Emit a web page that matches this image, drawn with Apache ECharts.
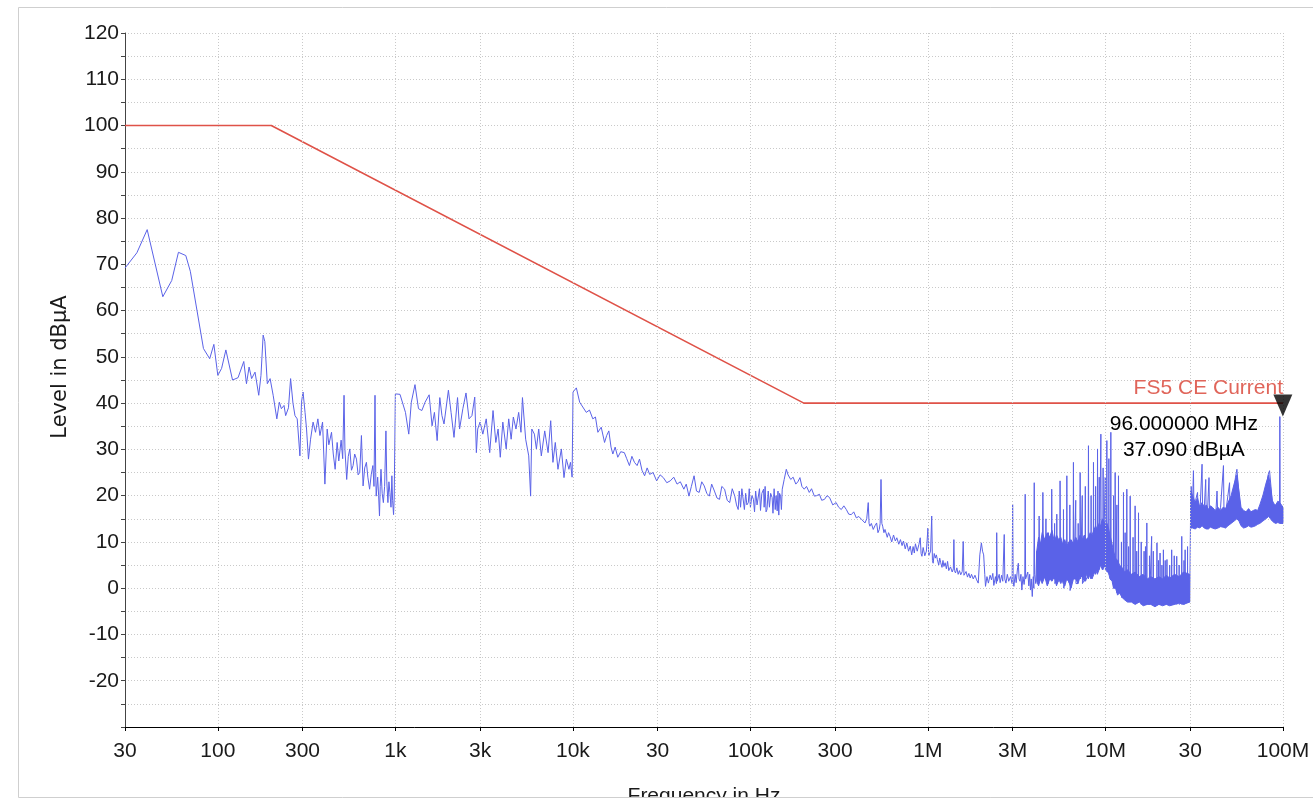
<!DOCTYPE html>
<html>
<head>
<meta charset="utf-8">
<script src="https://cdn.jsdelivr.net/npm/echarts@6/dist/echarts.min.js"></script>
<style>
html,body{margin:0;padding:0;background:#fff;}
#chart{width:1313px;height:799px;}
</style>
</head>
<body>
<div id="chart"></div>
<script>
// ---------- axis ticks ----------
const tickVals = [30,100,300,1e3,3e3,1e4,3e4,1e5,3e5,1e6,3e6,1e7,3e7,1e8];
const tickLabels = ["30","100","300","1k","3k","10k","30","100k","300","1M","3M","10M","30","100M"];

// ---------- limit line (FS5 CE Current) ----------
const limitFreq = [30, 200, 200000, 100000000];
const limitLevel = [100, 100, 40, 40];
const limitName = "FS5 CE Current";

// ---------- measured trace [Hz, dBµA] ----------
const trace30Hz = [[30,69.2],[35,72.5],[40,77.5],[49,63],[55,66.5],[60,72.6],[66,71.9],[70,68.5],[83,51.8],[90,49.6],[95,52.7],[100,46],[105,47.5],[111,51.5],[121,45],[130,45.5],[140,49],[145,44.2],[150,47.8],[155,45.3],[162,46.7],[170,41.7],[175,46],[180,54.7],[184,53.3],[190,44.2],[197,45.3],[205,41.7],[215,36.6],[222,40.2],[228,38.8],[236,39.5],[241,37.3],[250,39],[257,45.3],[265,40],[272,37.3],[280,36.6],[290,28.6],[296,40.2],[302,42.4],[310,38],[316,34.4],[324,27.9],[333,32.2],[344,35.9],[355,33.7],[366,36.6],[376,33],[389,35.9],[401,22.5],[413,34.4],[422,31],[430,30.8],[437,33.7],[447,29],[458,25.7],[470,31.5],[480,27.5],[495,32],[505,28],[514,41.7],[520,30],[532,23.5],[543,28.5],[554,30.1],[566,25.5],[578,26.5],[590,29],[604,27.9],[617,24.5],[630,25],[644,33],[658,22.1],[672,26],[687,27.2],[700,24],[716,21.4],[731,24.5],[747,26.5],[758,22],[768,41.7],[775,25],[780,19.9],[795,24],[805,20],[814,15.6],[822,22],[830,25.7],[843,20.5],[856,18.5],[870,22],[885,34],[895,23],[908,18.5],[920,23],[932,20.7],[945,17.5],[956,24.3],[965,19],[977,15.9],[985,19.5],[1000,42]];

const trace1k = [[1062,41.9],[1140,38],[1190,33.3],[1230,40.2],[1290,44],[1350,38.8],[1410,38.4],[1470,40.2],[1550,41.8],[1610,35.1],[1660,38],[1720,31.9],[1780,41.2],[1830,37.3],[1880,35.5],[1990,42.8],[2060,38],[2140,32.6],[2240,41.2],[2300,34.4],[2400,38.8],[2500,42.2],[2600,36.6],[2700,37.3],[2800,41.3],[2860,29.3],[2910,34.4],[3000,35.9],[3110,33.3],[3250,36.6],[3400,29.3],[3550,38.4],[3680,31.5],[3790,34.4],[3900,28.3],[4030,35.9],[4210,30.1],[4350,36.6],[4490,32.2],[4620,37],[4780,34.4],[4950,38],[5100,33.7],[5200,41.2],[5420,32.2],[5640,28.6],[5780,19.9],[5870,34.4],[6070,33.3],[6230,30.1],[6420,34.4],[6640,28.6],[6940,34],[7250,29.3],[7500,36.2],[7720,27.2],[7960,31.5],[8240,25.7],[8610,30.1],[8910,23.9],[9190,27.9],[9500,25.7],[9690,27.2],[9900,24],[10020,42.4],[10460,43.3],[10920,40.2]];

const trace10k = [[11900,38],[12400,38.5],[12950,36.6],[13400,37],[13830,33.7],[14440,34.8],[15080,31.5],[15500,33],[15940,34],[16400,30.5],[16790,29],[17300,30.5],[17900,28.3],[18600,29.5],[19490,29.3],[20100,28],[20820,26.5],[21500,28.5],[22230,27.2],[23000,26.5],[23730,27.9],[24500,25.5],[25350,24.3],[26200,26],[27070,24.6],[28300,25],[29630,23.2],[31000,24.5],[32320,23.9],[33800,22.8],[35350,23.2],[37000,24],[38610,22.5],[40300,23],[42180,21.4],[43500,22.5],[45060,19.9],[46500,22],[48150,24.3],[49700,21],[51440,20.7],[53200,23],[54950,22.1],[56800,20.5],[58700,19.9],[60500,22.5],[62700,21],[64800,19.5],[66980,19.2],[69000,22],[71550,21.4],[74000,19],[76430,18.5],[79000,21.5],[81650,19.9],[83500,18],[85350,17],[86500,21],[88000,17.5],[89500,21.5],[91150,21.4],[92500,17],[94000,20.5],[95500,18],[97330,18.5],[98500,21.5],[100000,17.5],[102000,20],[104000,19.2],[105500,16.5],[107000,21],[109000,18],[111000,17.8],[112500,21.5],[114000,16.8],[116000,20.5],[118600,21.4],[119500,17.5],[121000,22],[122500,16.5],[124000,17],[126000,21],[128000,17.5],[130000,20.5],[132500,19.6],[134000,16.2],[136000,21.5],[138000,17],[139500,20],[141500,16.7],[143000,21],[144500,15.8],[146000,20.5],[147900,19.9],[149500,17],[151100,21.4],[155000,23.5],[159300,25.7],[163000,24.5],[168700,23.5],[174000,24],[180200,22.5],[185000,23],[190100,23.9],[195000,22],[201000,21.4],[207000,22],[214500,20.7],[221000,21.5],[229200,19.9],[236000,20],[244700,20.3],[252000,19],[261400,19.2],[270000,20],[279200,19.6],[291000,18],[304000,18.5],[314000,17.5],[325000,17],[336000,17.8],[347000,17],[358000,16],[370000,15.9],[382000,16.5],[395000,15.2],[408000,15.5],[422000,14.9],[432000,14.8],[442000,14.1],[452000,15],[461000,18.5],[466000,14],[471000,13.4],[480000,14],[492000,12.7],[503000,13.5],[514000,14.1],[523000,12],[532000,12.7],[538000,14],[544000,23.5],[550000,14],[556000,13.4],[565000,12],[573000,12.7],[590000,11],[600000,12],[612000,11.2],[625000,10],[640000,11.5],[655000,10.2],[668000,10.9],[685000,9.5],[700000,10.5],[715000,9.2],[728000,10.2],[745000,8.5],[760000,9.8],[778000,8],[795000,9.1]];

const trace1M = [[810000,7.2],[825000,9],[838000,7.6],[850000,9.6],[870000,8],[890000,9.5],[905000,10.9],[915000,7.5],[925000,6.9],[940000,8.8],[960000,7],[980000,8],[1000000,13],[1010000,7],[1020000,6.9],[1035000,8],[1050000,15.6],[1060000,6],[1070000,5.4],[1085000,7.5],[1100000,6.5],[1115000,7.2],[1130000,6.2],[1150000,5],[1165000,6.5],[1180000,5.5],[1200000,4.5],[1215000,6],[1230000,4.7],[1250000,5.5],[1270000,4.2],[1290000,5.8],[1310000,3.8],[1340000,4.6],[1370000,3.5],[1390000,4.2],[1400000,10.5],[1410000,3.8],[1430000,3.3],[1455000,4.4],[1480000,3],[1505000,3.8],[1530000,2.9],[1560000,3.6],[1580000,10.1],[1595000,2.8],[1610000,2.5],[1640000,3.6],[1670000,2.4],[1700000,3.2],[1730000,2.2],[1760000,3],[1800000,2],[1840000,2.8],[1880000,1.8],[1920000,1.1],[1960000,7.2],[2000000,9.8],[2030000,8],[2060000,7.2],[2090000,3],[2110000,0.4],[2150000,2.5],[2190000,1.1],[2240000,2.8],[2280000,1.8],[2320000,3.2],[2350000,0.6],[2400000,2.5],[2430000,1],[2440000,12],[2455000,1.5],[2480000,1.1],[2520000,3],[2550000,1.2],[2600000,2.8],[2640000,1.5],[2690000,11.6],[2710000,2],[2750000,1.1],[2800000,3],[2850000,1.5],[2920000,2.5],[2980000,1],[3000000,18.1],[3020000,1.5],[3050000,0.4],[3100000,3],[3140000,1.2],[3200000,4.5],[3230000,5.4],[3260000,2],[3300000,1.5],[3340000,3],[3380000,-0.4],[3430000,2.5],[3480000,0.8],[3510000,2],[3530000,20.3],[3550000,2],[3610000,1.8],[3650000,3.5],[3700000,0.5],[3740000,3],[3780000,-0.4],[3820000,2],[3870000,-1.8],[3920000,2.5],[3950000,0],[3970000,22.8],[3990000,3],[4050000,1]];

const trace4M = [[4.1e6,8],[4.2e6,3],[4.23e6,15.6],[4.26e6,4],[4.40e6,2],[4.44e6,20.7],[4.48e6,3],[4.6e6,2],[4.62e6,15],[4.64e6,3],[4.75e6,1],[4.77e6,12],[4.79e6,2],[4.95e6,3],[4.98e6,21.4],[5.02e6,4],[5.15e6,2],[5.17e6,14],[5.19e6,1],[5.3e6,2],[5.32e6,16],[5.34e6,1],[5.52e6,2],[5.55e6,23.2],[5.59e6,3],[5.78e6,1],[5.8e6,17],[5.82e6,0],[6.03e6,3],[6.06e6,24.3],[6.09e6,2],[6.28e6,1],[6.3e6,18],[6.32e6,-0.5],[6.57e6,3],[6.60e6,27.2],[6.64e6,2],[6.78e6,2],[6.8e6,19],[6.82e6,1],[7.0e6,1],[7.02e6,14],[7.04e6,2],[7.17e6,3],[7.20e6,25],[7.24e6,2],[7.38e6,2],[7.4e6,20],[7.42e6,1],[7.68e6,2],[7.7e6,22],[7.72e6,1.5],[7.98e6,3],[8.02e6,30.8],[8.06e6,4],[8.28e6,2],[8.3e6,20],[8.32e6,3],[8.53e6,4],[8.56e6,27.2],[8.6e6,5],[8.78e6,3],[8.8e6,22],[8.82e6,4],[8.99e6,5],[9.02e6,30.1],[9.06e6,6],[9.2e6,4],[9.22e6,24],[9.24e6,5],[9.39e6,5],[9.42e6,33.3],[9.46e6,6],[9.68e6,4],[9.7e6,26],[9.72e6,5],[9.95e6,5],[9.97e6,24],[9.99e6,4],[10.14e6,5],[10.18e6,31.9],[10.22e6,5],[10.43e6,4],[10.45e6,28],[10.47e6,3],[10.68e6,4],[10.72e6,33.7],[10.76e6,3],[11.08e6,1],[11.1e6,20],[11.12e6,0],[11.3e6,2],[11.34e6,25],[11.38e6,0],[11.58e6,0],[11.6e6,18],[11.62e6,-1],[11.80e6,0],[11.84e6,24.3],[11.88e6,-1],[12.28e6,-1],[12.3e6,10],[12.32e6,-2],[12.59e6,-1],[12.63e6,20.7],[12.67e6,-2],[12.88e6,-1],[12.9e6,12],[12.92e6,-2],[13.15e6,-1],[13.19e6,21.4],[13.23e6,-2.5],[13.48e6,-2],[13.5e6,9],[13.52e6,-2.5],[13.74e6,-2],[13.78e6,19.9],[13.82e6,-2.5],[14.28e6,-2],[14.3e6,11],[14.32e6,-3],[14.65e6,-2],[14.69e6,17.8],[14.73e6,-3],[14.98e6,-2],[15e6,8],[15.02e6,-3],[15.31e6,-2],[15.35e6,16.3],[15.39e6,-3],[15.88e6,-2],[15.9e6,10],[15.92e6,-3.5],[16.48e6,-2],[16.5e6,8],[16.52e6,-3],[16.78e6,-2],[16.8e6,9],[16.82e6,-3],[17.05e6,-2],[17.1e6,14.1],[17.15e6,-3.5],[17.68e6,-2],[17.7e6,7],[17.72e6,-3],[18.15e6,-3],[18.2e6,11.2],[18.25e6,-3.5],[18.58e6,-2],[18.6e6,8],[18.62e6,-3],[19.45e6,-3],[19.5e6,9.8],[19.55e6,-3.5],[19.88e6,-3],[19.9e6,6],[19.92e6,-3.5],[20.25e6,-3],[20.3e6,7.6],[20.35e6,-3.5],[20.78e6,-3],[20.8e6,5],[20.82e6,-3.5],[21.15e6,-3],[21.2e6,8.3],[21.25e6,-3.5],[21.68e6,-3],[21.7e6,6],[21.72e6,-3.5],[22.15e6,-3],[22.2e6,6.2],[22.25e6,-3.5],[22.98e6,-3],[23e6,5],[23.02e6,-3.5],[23.55e6,-3],[23.6e6,8.3],[23.65e6,-3.5],[24.38e6,-3],[24.4e6,7],[24.42e6,-3.5],[25.15e6,-3],[25.2e6,6.9],[25.25e6,-3.5],[25.98e6,-3],[26e6,5],[26.02e6,-3.5],[26.85e6,-3],[26.9e6,11.2],[26.95e6,-3.5],[27.68e6,-3],[27.7e6,6],[27.72e6,-3.5],[28.05e6,-3],[28.1e6,8.3],[28.15e6,-3.2],[28.98e6,-3],[29e6,9],[29.02e6,-3],[29.8e6,-3],[30.0e6,8],[30.2e6,18]];

const trace30M = [[30.4e6,22],[30.8e6,15],[31.3e6,25.4],[31.6e6,14],[32.2e6,19],[33e6,20.7],[33.4e6,14],[34.2e6,18],[35e6,26.8],[35.3e6,14],[36e6,17],[36.7e6,23.5],[37e6,13.5],[37.6e6,17],[38.3e6,23.9],[38.6e6,13.5],[40e6,17],[41.5e6,13.5],[42.5e6,21],[43e6,14],[44.5e6,17.5],[46.2e6,26.5],[46.6e6,14],[48e6,17.5],[50e6,22.8],[50.4e6,14.5],[52e6,19],[54e6,24],[55e6,25.7],[56e6,22],[57.5e6,17],[60e6,14],[63e6,16.8],[66e6,13.5],[70e6,16.5],[74e6,15],[77e6,18],[80e6,21],[82.5e6,24.5],[84e6,25.4],[86e6,21],[88e6,16.5],[91e6,17.5],[94e6,15],[95.6e6,17],[96e6,37.09],[96.4e6,17],[98e6,14.5],[100e6,15.5]];

// dense noise floor bands [Hz, low dBµA, high dBµA]
const band4M = [[4.1e6,1.5,8],[4.2e6,0.5,11],[4.3e6,2,9.5],[4.4e6,1,12],[4.55e6,2.5,10.5],[4.7e6,0.5,12],[4.85e6,2,11],[5e6,1.5,12.5],[5.15e6,2.5,10],[5.3e6,0.5,11.5],[5.45e6,2,10.5],[5.6e6,1,11],[5.75e6,2,9.5],[5.9e6,0.5,10.5],[6.05e6,2,9],[6.2e6,1.5,10],[6.4e6,0,10.5],[6.6e6,2,9.5],[6.8e6,2,11],[7e6,1,10],[7.2e6,2.5,11.5],[7.4e6,2.5,10.5],[7.6e6,1.5,11.5],[7.8e6,3,10.5],[8e6,2,11],[8.2e6,3,12],[8.4e6,2,11.5],[8.6e6,3,12.5],[8.8e6,4,13.5],[9e6,3,12.5],[9.2e6,4,14],[9.4e6,5,13.5],[9.6e6,4,15],[9.8e6,4.5,14.5],[10e6,5,13.5],[10.2e6,3.5,14],[10.4e6,3.5,13],[10.6e6,2,11.5],[10.9e6,1.5,9.5],[11.1e6,0,8],[11.4e6,0,6.5],[11.7e6,-1.5,6],[12e6,-1,5],[12.4e6,-2,4.5],[12.8e6,-2.5,3.5],[13.3e6,-3,4],[14e6,-3,3],[14.7e6,-3.5,3.5],[15.5e6,-3,2.5],[16.3e6,-3.8,3],[17.2e6,-3.5,2],[18e6,-3.5,2.5],[19e6,-4,2],[20e6,-3.5,2.5],[21e6,-3.8,2],[22e6,-3.5,2.8],[23e6,-3.8,2.2],[24.5e6,-3.5,3],[26e6,-3.2,2.5],[27.5e6,-3.5,3.5],[29.8e6,-3,3]];
const band30M = [[30.2e6,13,21],[31e6,13,20],[32e6,12.8,18.5],[33e6,13.2,19.5],[34e6,13,17.5],[35e6,13.5,18.5],[36e6,13,17.5],[37e6,12.8,18],[38e6,12.8,17],[39e6,13.2,17.8],[40e6,13,17.5],[41.5e6,12.8,16.8],[43e6,13,17.5],[44.5e6,13.3,16.8],[46e6,13.2,17.5],[47.5e6,13,17.2],[49e6,13.5,18.5],[51e6,14,20],[53e6,14.5,22.5],[55e6,15,24.5],[56.5e6,14.5,21],[58e6,13.5,17.5],[60e6,13,16.8],[62e6,13.2,16.5],[64e6,13.5,17.2],[66e6,13.2,16.5],[68e6,13.3,16.8],[70e6,13.5,17],[72e6,13.8,16.8],[74e6,14,18],[77e6,14.5,20],[80e6,15,22.5],[83e6,15.5,24.5],[85e6,15,22],[87e6,14.5,19],[89e6,14.2,18.2],[91e6,14,18],[93.5e6,14.2,18.8],[96e6,14,18.5],[100e6,14,17.5]];

// marker
const markerPoint = [96e6, 37.09];
const markerFreqText = "96.000000 MHz";
const markerLevelText = "37.090 dBµA";

// ---------- build ----------
const BLUE = '#5a62e8';
const RED = '#df5248';
const FONT = 'Liberation Sans, Arial, sans-serif';
const traceData = [].concat(trace30Hz, trace1k, trace10k, trace1M, trace4M, trace30M);
const limitData = limitFreq.map((f, i) => [f, limitLevel[i]]);

function labelFor(v) {
  for (let i = 0; i < tickVals.length; i++) {
    if (Math.abs(Math.log10(v) - Math.log10(tickVals[i])) < 1e-6) return tickLabels[i];
  }
  return '';
}

function bandSeries(band) {
  return {
    type: 'custom', coordinateSystem: 'cartesian2d', data: band, encode: { x: 0, y: [1, 2] },
    silent: true, z: 2, animation: false,
    renderItem: function (params, api) {
      if (params.dataIndex !== 0) return null;
      const top = band.map(d => api.coord([d[0], d[2]]));
      const bot = band.slice().reverse().map(d => api.coord([d[0], d[1]]));
      return { type: 'polygon', shape: { points: top.concat(bot) },
               style: { fill: BLUE, stroke: BLUE, lineWidth: 1 } };
    }
  };
}

const chart = echarts.init(document.getElementById('chart'), null, { renderer: 'canvas' });
chart.setOption({
  animation: false,
  backgroundColor: '#fff',
  grid: { left: 125, right: 30, top: 33, bottom: 72, containLabel: false, outerBoundsMode: 'none' },
  xAxis: {
    type: 'log', logBase: 10, min: 30, max: 1e8,
    name: 'Frequency in Hz', nameLocation: 'middle', nameGap: 59,
    nameTextStyle: { fontSize: 21, color: '#1a1a1a', fontFamily: FONT },
    axisLine: { show: true, onZero: false, lineStyle: { color: '#000', width: 1 } },
    axisTick: { show: true, customValues: tickVals, length: 4, lineStyle: { color: '#000' } },
    axisLabel: { show: true, customValues: tickVals, formatter: labelFor, fontSize: 21,
                 color: '#1a1a1a', fontFamily: FONT, margin: 14 },
    splitLine: { show: false },
    minorTick: { show: false }, minorSplitLine: { show: false }
  },
  yAxis: {
    type: 'value', min: -30, max: 120, interval: 10,
    name: 'Level in dBµA', nameLocation: 'middle', nameGap: 54, nameRotate: 90,
    nameTextStyle: { fontSize: 21, color: '#1a1a1a', fontFamily: 'DejaVu Sans, sans-serif', padding: [0, 0, 0, 26] },
    axisLine: { show: true, onZero: false, lineStyle: { color: '#444', width: 1 } },
    axisTick: { show: true, length: 4, lineStyle: { color: '#444' } },
    minorTick: { show: true, splitNumber: 2, length: 4, lineStyle: { color: '#444' } },
    axisLabel: { fontSize: 21, color: '#1a1a1a', fontFamily: FONT, margin: 6, showMinLabel: false },
    splitLine: { show: true, lineStyle: { color: '#c9c9c9', type: [1, 2], width: 1 } },
    minorSplitLine: { show: true, lineStyle: { color: '#c9c9c9', type: [1, 2], width: 1 } }
  },
  series: [
    {
      name: 'vgrid', type: 'line', data: [[30, -30]], showSymbol: false, silent: true, z: 1,
      lineStyle: { opacity: 0 },
      markLine: {
        silent: true, symbol: ['none', 'none'], animation: false,
        label: { show: false },
        lineStyle: { color: '#c9c9c9', type: [1, 2], width: 1 },
        data: tickVals.slice(1).map(v => ({ xAxis: v }))
      }
    },
    bandSeries(band4M),
    bandSeries(band30M),
    {
      name: 'trace', type: 'line', data: traceData, showSymbol: false, z: 3,
      lineStyle: { color: BLUE, width: 1 }, itemStyle: { color: BLUE }
    },
    {
      name: limitName, type: 'line', data: limitData, showSymbol: false, z: 4,
      lineStyle: { color: RED, width: 1.6 }, itemStyle: { color: RED },
      endLabel: { show: true, formatter: limitName, align: 'right', verticalAlign: 'bottom',
                  distance: 0, offset: [0, -4], color: '#e0655a', fontSize: 21, fontFamily: FONT }
    },
    {
      name: 'marker', type: 'scatter', data: [markerPoint], z: 6,
      symbol: 'path://M0,0 L20,0 L10,22 Z', symbolSize: [19, 22], symbolOffset: [3, -11],
      itemStyle: { color: '#000' }
    },
    {
      name: 'markerText', type: 'scatter', data: [markerPoint], z: 7,
      symbolSize: 0, itemStyle: { color: '#000' },
      label: { show: true, position: 'inside', offset: [-96, 21], align: 'center', verticalAlign: 'middle',
               formatter: markerFreqText + '\n' + markerLevelText, lineHeight: 26,
               fontSize: 21, color: '#000', textBorderWidth: 0, opacity: 1, fontFamily: FONT }
    }
  ],
  graphic: [
    { type: 'rect', z: 100, silent: true, shape: { x: 0, y: 797, width: 1313, height: 6 }, style: { fill: '#fff' } },
    { type: 'rect', z: 101, silent: true, shape: { x: 18.5, y: 7.5, width: 1320, height: 790 },
      style: { fill: null, stroke: '#cfcfcf', lineWidth: 1 } }
  ]
});
</script>
</body>
</html>
